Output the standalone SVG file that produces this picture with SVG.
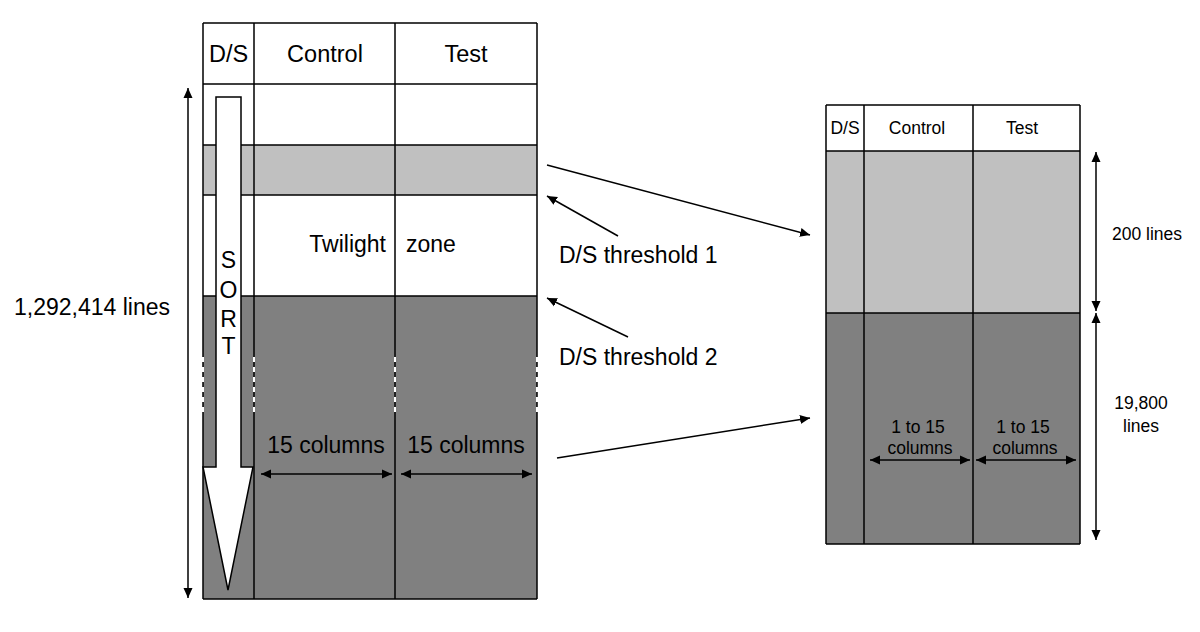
<svg xmlns="http://www.w3.org/2000/svg" width="1200" height="632" viewBox="0 0 1200 632">
<defs>
<marker id="ah" viewBox="0 0 10 10" refX="10" refY="5" markerWidth="10" markerHeight="10" markerUnits="userSpaceOnUse" orient="auto-start-reverse">
<path d="M0,0.5 L10,5 L0,9.5 Z" fill="#000"/>
</marker>
<style>
text{font-family:"Liberation Sans",Arial,sans-serif;fill:#000}
.big{font-size:23px}
.hdr{font-size:23.5px}
.sm{font-size:17.5px}
.grid{stroke:#000;stroke-width:1.5;fill:none}
.conn{stroke:#000;stroke-width:1.5;fill:none;marker-end:url(#ah)}
.dbl{stroke:#000;stroke-width:1.5;fill:none;marker-start:url(#ah);marker-end:url(#ah)}
.lg{fill:#c0c0c0}
.dg{fill:#808080}
.wh{fill:#fff}
.gap{stroke:#fff;stroke-width:2;stroke-dasharray:5 5}
</style>
</defs>
<rect width="1200" height="632" fill="#fff"/>

<g id="left-table">
<rect class="wh" x="203" y="23" width="334" height="122"/>
<rect class="lg" x="203" y="145" width="334" height="50"/>
<rect class="wh" x="203" y="195" width="334" height="101"/>
<rect class="dg" x="203" y="296" width="334" height="303"/>
<path class="grid" d="M203,23 H537 M203,84 H537 M203,145 H537 M203,195 H537 M203,296 H537 M203,599 H537 M203,23 V599 M254,23 V599 M395,23 V599 M537,23 V599"/>
<path class="gap" d="M203,357 V417 M254,357 V417 M395,357 V417 M537,357 V417"/>
<text class="hdr" x="228.5" y="62" text-anchor="middle">D/S</text>
<text class="hdr" x="325" y="62" text-anchor="middle">Control</text>
<text class="hdr" x="466" y="62" text-anchor="middle">Test</text>
<text class="big" x="386" y="252" text-anchor="end">Twilight</text>
<text class="big" x="406" y="252">zone</text>
<text class="big" x="326" y="453" text-anchor="middle">15 columns</text>
<text class="big" x="466" y="453" text-anchor="middle">15 columns</text>
</g>

<g id="sort-arrow">
<path d="M216,97 H241 V467 H253 L228,590 L203,467 H216 Z" fill="#fff" stroke="#000" stroke-width="1.5" stroke-linejoin="miter"/>
<text class="big" x="228.5" y="268" text-anchor="middle">S</text>
<text class="big" x="228.5" y="298" text-anchor="middle">O</text>
<text class="big" x="228.5" y="327" text-anchor="middle">R</text>
<text class="big" x="228.5" y="354" text-anchor="middle">T</text>
</g>

<g id="left-size">
<line class="dbl" x1="188" y1="88" x2="188" y2="598"/>
<text class="big" x="14" y="315">1,292,414 lines</text>
</g>

<g id="right-table">
<rect class="wh" x="826" y="105" width="254" height="46"/>
<rect class="lg" x="826" y="151" width="254" height="162"/>
<rect class="dg" x="826" y="313" width="254" height="231"/>
<path class="grid" d="M826,105 H1080 M826,151 H1080 M826,313 H1080 M826,544 H1080 M826,105 V544 M864,105 V544 M973,105 V544 M1080,105 V544"/>
<text class="sm" x="845" y="134" text-anchor="middle">D/S</text>
<text class="sm" x="917" y="134" text-anchor="middle">Control</text>
<text class="sm" x="1022" y="134" text-anchor="middle">Test</text>
<text class="sm" x="918" y="433" text-anchor="middle">1 to 15</text>
<text class="sm" x="920" y="454" text-anchor="middle">columns</text>
<text class="sm" x="1023" y="433" text-anchor="middle">1 to 15</text>
<text class="sm" x="1025" y="454" text-anchor="middle">columns</text>
</g>

<g id="right-size">
<text class="sm" x="1147" y="240" text-anchor="middle">200 lines</text>
<text class="sm" x="1141" y="409" text-anchor="middle">19,800</text>
<text class="sm" x="1141" y="432" text-anchor="middle">lines</text>
</g>

<g id="thresholds">
<text class="big" x="559" y="263">D/S threshold 1</text>
<text class="big" x="559" y="365">D/S threshold 2</text>
</g>

<g id="connectors">
<line class="dbl" x1="261" y1="474" x2="392" y2="474"/>
<line class="dbl" x1="401" y1="474" x2="532" y2="474"/>
<line class="dbl" x1="870" y1="460" x2="970" y2="460"/>
<line class="dbl" x1="976" y1="460" x2="1076" y2="460"/>
<line class="dbl" x1="1096" y1="152" x2="1096" y2="311"/>
<line class="dbl" x1="1096" y1="313" x2="1096" y2="540"/>
<line class="conn" x1="547" y1="165" x2="810" y2="235"/>
<line class="conn" x1="618" y1="236" x2="547" y2="196"/>
<line class="conn" x1="628" y1="337" x2="547" y2="298"/>
<line class="conn" x1="557" y1="458" x2="810" y2="418"/>
</g>
</svg>
